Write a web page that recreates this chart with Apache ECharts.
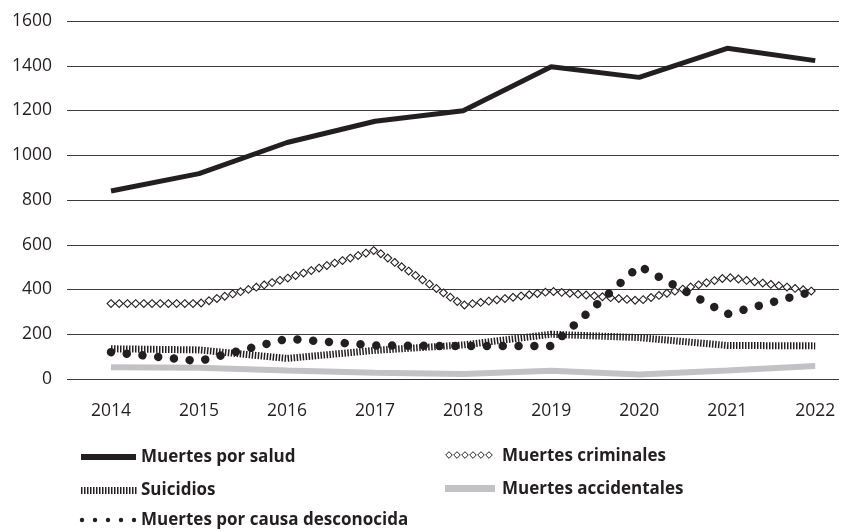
<!DOCTYPE html>
<html>
<head>
<meta charset="utf-8">
<script src="https://cdn.jsdelivr.net/npm/echarts@6/dist/echarts.min.js"></script>
<style>
  html, body { margin: 0; padding: 0; background: #fff; }
  #chart { width: 842px; height: 531px; }
</style>
</head>
<body>
<div id="chart"></div>
<script>
const years = [2014, 2015, 2016, 2017, 2018, 2019, 2020, 2021, 2022];
const salud = [840, 918, 1057, 1152, 1199, 1396, 1348, 1478, 1423];
const criminales = [337, 337, 450, 576, 330, 392, 350, 455, 390];
const suicidios = [135, 130, 92, 128, 152, 200, 185, 150, 148];
const accidentales = [52, 50, 38, 28, 22, 37, 20, 38, 58];
const desconocida = [120, 80, 180, 150, 147, 147, 505, 290, 394];
const yTicks = [0, 200, 400, 600, 800, 1000, 1200, 1400, 1600];
const names = ['Muertes por salud', 'Muertes criminales', 'Suicidios', 'Muertes accidentales', 'Muertes por causa desconocida'];

const INK = '#231f20';
const GRAY = '#c2c2c4';
const FONT = '"Open Sans"';
const pairs = arr => years.map((y, i) => [y, arr[i]]);

function renderDiamonds(params, api) {
  const i = params.dataIndex;
  const n = years.length;
  if (i >= n - 1) return null;
  const pts = years.map((y, k) => api.coord([y, criminales[k]]));
  const cum = [0];
  for (let k = 0; k < n - 1; k++) {
    const dx = pts[k + 1][0] - pts[k][0], dy = pts[k + 1][1] - pts[k][1];
    cum.push(cum[k] + Math.sqrt(dx * dx + dy * dy));
  }
  const sp = 8.2, h = 3.9;
  const children = [];
  for (let k = Math.ceil(cum[i] / sp - 1e-9); k * sp < cum[i + 1]; k++) {
    const t = (k * sp - cum[i]) / (cum[i + 1] - cum[i]);
    const x = pts[i][0] + t * (pts[i + 1][0] - pts[i][0]);
    const y = pts[i][1] + t * (pts[i + 1][1] - pts[i][1]);
    children.push({
      type: 'polygon',
      shape: { points: [[x, y - h], [x + h, y], [x, y + h], [x - h, y]] },
      style: { fill: '#fff', stroke: INK, lineWidth: 1.1 }
    });
  }
  return { type: 'group', children };
}

// legend built with graphic elements
const legendFont = 'bold 17px ' + FONT;
function legendText(txt, x, y) {
  return { type: 'text', x: x, y: y, style: { text: txt, font: legendFont, fill: INK, align: 'left', verticalAlign: 'middle' } };
}
const legendDiamonds = [];
for (let k = 0; k < 6; k++) {
  const cx = 449 + k * 8, cy = 455, h = 3.3;
  legendDiamonds.push({ type: 'polygon', shape: { points: [[cx, cy - h], [cx + h, cy], [cx, cy + h], [cx - h, cy]] }, style: { fill: '#fff', stroke: INK, lineWidth: 1 } });
}
const legendDots = [];
for (let k = 0; k < 5; k++) {
  legendDots.push({ type: 'circle', shape: { cx: 82 + k * 13, cy: 520, r: 2.2 }, style: { fill: INK } });
}

const chart = echarts.init(document.getElementById('chart'), null, { renderer: 'canvas' });
chart.setOption({
  animation: false,
  backgroundColor: '#fff',
  grid: { left: 67, right: 1, top: 21, bottom: 152, containLabel: false },
  xAxis: {
    type: 'value', min: 2013.5, max: 2022.27, interval: 0.5,
    axisLine: { show: false }, axisTick: { show: false }, splitLine: { show: false },
    axisLabel: {
      margin: 23, fontSize: 17.5, fontFamily: FONT, color: INK,
      showMinLabel: true, showMaxLabel: true,
      formatter: v => (Math.abs(v - Math.round(v)) < 1e-6 && years.indexOf(Math.round(v)) >= 0) ? String(Math.round(v)) : ''
    }
  },
  yAxis: {
    type: 'value', min: yTicks[0], max: yTicks[yTicks.length - 1], interval: 200,
    axisLine: { show: false }, axisTick: { show: false },
    splitLine: { lineStyle: { color: '#3a3a3a', width: 1 } },
    axisLabel: { margin: 15, fontSize: 17.5, fontFamily: FONT, color: INK, formatter: v => String(v) }
  },
  series: [
    { name: names[3], type: 'line', data: pairs(accidentales), symbol: 'none', z: 2,
      lineStyle: { color: GRAY, width: 6 } },
    { name: names[2], type: 'line', data: pairs(suicidios), symbol: 'none', z: 3,
      lineStyle: { color: INK, width: 7, type: [1.5, 1.5] } },
    { name: names[0], type: 'line', data: pairs(salud), symbol: 'none', z: 4,
      lineStyle: { color: INK, width: 5 } },
    { name: names[1], type: 'custom', data: pairs(criminales), renderItem: renderDiamonds, z: 5,
      encode: { x: 0, y: 1 } },
    { name: names[4], type: 'line', data: pairs(desconocida), symbol: 'none', z: 6,
      lineStyle: { color: INK, width: 8.5, type: [0.01, 15.8], cap: 'round' } }
  ],
  graphic: [
    { type: 'rect', shape: { x: 81, y: 454, width: 55, height: 6 }, style: { fill: INK } },
    legendText(names[0], 141, 457),
    { type: 'group', children: legendDiamonds },
    legendText(names[1], 502, 456),
    { type: 'line', shape: { x1: 81, y1: 490.5, x2: 137, y2: 490.5 }, style: { stroke: INK, lineWidth: 7, lineDash: [1.5, 1.5] } },
    legendText(names[2], 141, 490),
    { type: 'rect', shape: { x: 445, y: 485, width: 50, height: 7 }, style: { fill: GRAY } },
    legendText(names[3], 502, 489),
    { type: 'group', children: legendDots },
    legendText(names[4], 141, 520)
  ]
});
</script>
</body>
</html>
